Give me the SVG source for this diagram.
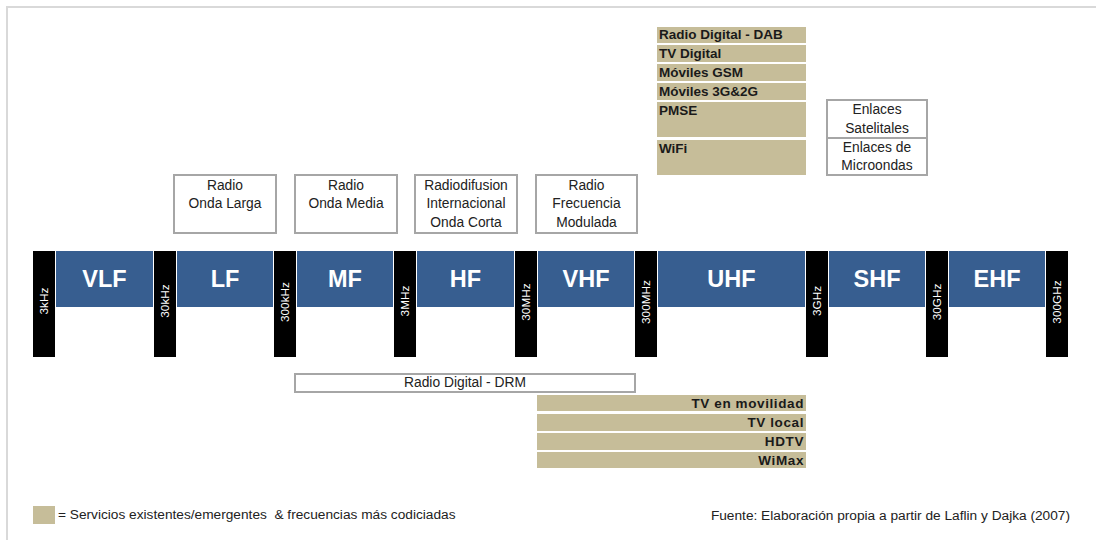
<svg xmlns="http://www.w3.org/2000/svg" width="1096" height="540" viewBox="0 0 1096 540">
<style>
.frame{stroke:#d9d9d9;stroke-width:2;fill:none}
.bar{fill:#000}
.band{fill:#375E90}
.freq{font-family:"Liberation Sans",Arial,sans-serif;font-size:11.8px;fill:#fff;text-anchor:middle}
.bl{font-family:"Liberation Sans",Arial,sans-serif;font-size:23.5px;font-weight:bold;fill:#fff;text-anchor:middle}
.box{fill:#fff;stroke:#a6a6a6;stroke-width:2}
.bt{font-family:"Liberation Sans",Arial,sans-serif;font-size:13.8px;fill:#222;text-anchor:middle}
.tan{fill:#C6BD99}
.tt{font-family:"Liberation Sans",Arial,sans-serif;font-size:13.5px;font-weight:bold;fill:#1a1a1a}
.ts{letter-spacing:0.6px}
.note{font-family:"Liberation Sans",Arial,sans-serif;font-size:13.7px;fill:#222}
</style>
<rect width="1096" height="540" fill="#fff"/>
<path class="frame" d="M7 540 V7 H1096"/>

<g id="bars">
<g id="f3k"><rect class="bar" x="33" y="251" width="22" height="106"/><text class="freq" transform="translate(48,301) rotate(-90)">3kHz</text></g>
<g id="f30k"><rect class="bar" x="154" y="251" width="22" height="106"/><text class="freq" transform="translate(169,301) rotate(-90)">30kHz</text></g>
<g id="f300k"><rect class="bar" x="274" y="251" width="22" height="106"/><text class="freq" transform="translate(289,302) rotate(-90)">300kHz</text></g>
<g id="f3M"><rect class="bar" x="394" y="251" width="22" height="106"/><text class="freq" transform="translate(409,301) rotate(-90)">3MHz</text></g>
<g id="f30M"><rect class="bar" x="515" y="251" width="22" height="106"/><text class="freq" transform="translate(530,302) rotate(-90)">30MHz</text></g>
<g id="f300M"><rect class="bar" x="635" y="251" width="22" height="106"/><text class="freq" transform="translate(650,302) rotate(-90)">300MHz</text></g>
<g id="f3G"><rect class="bar" x="806" y="251" width="22" height="106"/><text class="freq" transform="translate(821,301) rotate(-90)">3GHz</text></g>
<g id="f30G"><rect class="bar" x="926" y="251" width="22" height="106"/><text class="freq" transform="translate(941,302) rotate(-90)">30GHz</text></g>
<g id="f300G"><rect class="bar" x="1046" y="251" width="22" height="106"/><text class="freq" transform="translate(1061,302) rotate(-90)">300GHz</text></g>
</g>

<g id="bands">
<g id="VLF"><rect class="band" x="56" y="251" width="97" height="56"/><text class="bl" x="104.5" y="287">VLF</text></g>
<g id="LF"><rect class="band" x="177" y="251" width="96" height="56"/><text class="bl" x="225" y="287">LF</text></g>
<g id="MF"><rect class="band" x="297" y="251" width="96" height="56"/><text class="bl" x="345" y="287">MF</text></g>
<g id="HF"><rect class="band" x="417" y="251" width="97" height="56"/><text class="bl" x="465.5" y="287">HF</text></g>
<g id="VHF"><rect class="band" x="538" y="251" width="96" height="56"/><text class="bl" x="586" y="287">VHF</text></g>
<g id="UHF"><rect class="band" x="658" y="251" width="147" height="56"/><text class="bl" x="731.5" y="287">UHF</text></g>
<g id="SHF"><rect class="band" x="829" y="251" width="96" height="56"/><text class="bl" x="877" y="287">SHF</text></g>
<g id="EHF"><rect class="band" x="949" y="251" width="96" height="56"/><text class="bl" x="997" y="287">EHF</text></g>
</g>

<g id="ondaLarga"><rect class="box" x="174" y="175" width="102" height="58"/><text class="bt" x="225" y="190">Radio</text><text class="bt" x="225" y="208">Onda Larga</text></g>
<g id="ondaMedia"><rect class="box" x="295" y="175" width="102" height="58"/><text class="bt" x="346" y="190">Radio</text><text class="bt" x="346" y="208">Onda Media</text></g>
<g id="ondaCorta"><rect class="box" x="415" y="175" width="102" height="58"/><text class="bt" x="466" y="190">Radiodifusion</text><text class="bt" x="466" y="208">Internacional</text><text class="bt" x="466" y="227">Onda Corta</text></g>
<g id="fm"><rect class="box" x="536" y="175" width="101" height="58"/><text class="bt" x="586.5" y="190">Radio</text><text class="bt" x="586.5" y="208">Frecuencia</text><text class="bt" x="586.5" y="227">Modulada</text></g>

<g id="uhfServices">
<rect class="tan" x="657" y="27" width="149" height="16"/><text class="tt" x="659" y="39">Radio Digital - DAB</text>
<rect class="tan" x="657" y="45" width="149" height="17"/><text class="tt" x="659" y="58">TV Digital</text>
<rect class="tan" x="657" y="64" width="149" height="17"/><text class="tt" x="659" y="77">Móviles GSM</text>
<rect class="tan" x="657" y="83" width="149" height="17"/><text class="tt" x="659" y="96">Móviles 3G&amp;2G</text>
<rect class="tan" x="657" y="102" width="149" height="35"/><text class="tt" x="659" y="115">PMSE</text>
<rect class="tan" x="657" y="140" width="149" height="35"/><text class="tt" x="659" y="153">WiFi</text>
</g>

<g id="satelitales"><rect class="box" x="827" y="100" width="100" height="38"/><text class="bt" x="877" y="114">Enlaces</text><text class="bt" x="877" y="133">Satelitales</text></g>
<g id="microondas"><rect class="box" x="827" y="138" width="100" height="37"/><text class="bt" x="877" y="152">Enlaces de</text><text class="bt" x="877" y="170">Microondas</text></g>

<g id="drm"><rect class="box" x="295" y="374" width="340" height="18"/><text class="bt" x="465" y="387">Radio Digital - DRM</text></g>

<g id="vhfServices">
<rect class="tan" x="537" y="395" width="269" height="16"/><text class="tt ts" x="804" y="408" text-anchor="end">TV en movilidad</text>
<rect class="tan" x="537" y="414" width="269" height="17"/><text class="tt ts" x="804" y="427" text-anchor="end">TV local</text>
<rect class="tan" x="537" y="433" width="269" height="17"/><text class="tt ts" x="804" y="446" text-anchor="end">HDTV</text>
<rect class="tan" x="537" y="452" width="269" height="16"/><text class="tt ts" x="804" y="465" text-anchor="end">WiMax</text>
</g>

<g id="legend"><rect class="tan" x="33" y="506" width="22" height="18"/><text class="note" x="58" y="519" xml:space="preserve">= Servicios existentes/emergentes  &amp; frecuencias más codiciadas</text></g>
<g id="source"><text class="note" x="1070" y="520" text-anchor="end">Fuente: Elaboración propia a partir de Laflin y Dajka (2007)</text></g>
</svg>
